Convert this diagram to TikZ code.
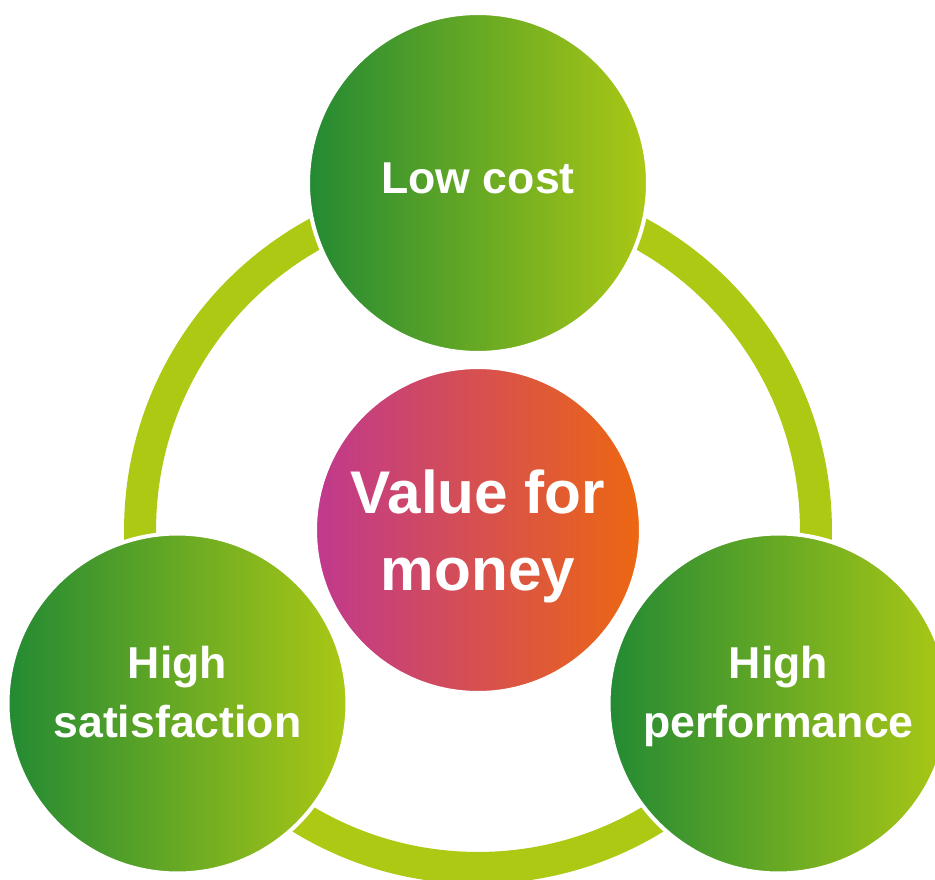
\documentclass[tikz,border=0pt]{standalone}
\usepackage{fontspec}
\setmainfont{Liberation Sans}
\usepackage{tikz}
\usetikzlibrary{positioning}
\usetikzlibrary{calc}

\definecolor{leafdark}{RGB}{35,138,51}
\definecolor{leaflight}{RGB}{171,200,21}
\definecolor{ringgreen}{RGB}{174,201,20}
\definecolor{valmagenta}{RGB}{192,57,142}
\definecolor{valorange}{RGB}{237,103,17}

\begin{document}
\begin{tikzpicture}[
    x=0.02cm, y=0.02cm,   % one unit is one pixel of the layout
    ]
% -------------------------------------------------
\tikzset{
  bubble/.style={circle, draw=white, line width=0.08cm, inner sep=0pt},
  pillar/.style={bubble, minimum size=6.8cm, left color=leafdark, right color=leaflight},
  core/.style={bubble, minimum size=6.52cm, left color=valmagenta, right color=valorange},
  lbl/.style={text=white, align=center, font=\bfseries\fontsize{25.4pt}{33.4pt}\selectfont, text depth=0pt},
  biglbl/.style={lbl, font=\bfseries\fontsize{34.3pt}{43.9pt}\selectfont},
  ring/.style={draw=ringgreen, line width=0.64cm}
}
\useasboundingbox (-478,-349) rectangle (457,530);
% -------------------------------------------------
% Ring and the three pillars around it

\coordinate (hub) at (0,0);
\draw [ring] (hub) circle [radius=6.76cm];

\node [pillar] (cost) at ($(hub)+(90:347)$) {};
\node [pillar] (sat)  at ($(hub)+(210:347)$) {};
\node [pillar] (perf) at ($(hub)+(330:347)$) {};
\node [core]   (val)  at (hub) {};

% Labels
\node [lbl] (costlbl) at ([yshift=0.1cm]cost)  {Low cost};
\node [lbl] (satlbl)  at ([yshift=0.23cm]sat)  {High\\satisfaction};
\node [lbl] (perflbl) at ([yshift=0.23cm]perf) {High\\performance};
\node [biglbl] (vallbl) at (val) {Value for\\money};

\end{tikzpicture}
\end{document}
